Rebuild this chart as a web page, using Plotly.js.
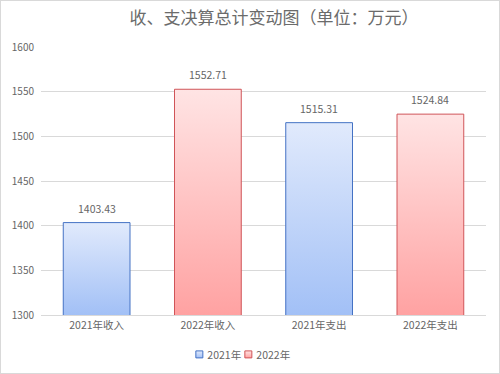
<!DOCTYPE html>
<html><head><meta charset="utf-8">
<script src="https://cdn.plot.ly/plotly-3.0.1.min.js"></script>
<style>html,body{margin:0;padding:0;background:#fff}#c{width:498px;height:372px;border:1px solid #d9d9d9}</style>
</head><body><div id="c"></div>
<script>
const categories = ['2021年收入','2022年收入','2021年支出','2022年支出'];
const x2021 = ['2021年收入','2021年支出'];
const v2021 = [1403.43, 1515.31];
const x2022 = ['2022年收入','2022年支出'];
const v2022 = [1552.71, 1524.84];
const yTicks = [1300,1350,1400,1450,1500,1550,1600];

const fam = '"Noto Sans CJK SC", "Noto Sans", sans-serif';
const txtColor = '#666666';
const traces = [
 {type:'bar', name:'2021年', x:x2021, y:v2021, width:0.6,
  marker:{color:'#c4d6f7', line:{color:'#4472c4', width:1}}},
 {type:'bar', name:'2022年', x:x2022, y:v2022, width:0.6,
  marker:{color:'#ffc6c6', line:{color:'#d05458', width:1}}}
];
const annotations = [];
[[x2021,v2021],[x2022,v2022]].forEach(function(s){
  s[0].forEach(function(c,i){
    annotations.push({x:c, y:s[1][i], xref:'x', yref:'y', text:s[1][i].toFixed(2), showarrow:false,
      yanchor:'bottom', yshift:5, font:{size:10.5, color:txtColor, family:fam}});
  });
});
const layout = {
 width:498, height:372, margin:{l:40,r:13,t:46,b:58},
 paper_bgcolor:'#fff', plot_bgcolor:'#fff', font:{family:fam, color:txtColor, size:10},
 title:{text:'收、支决算总计变动图（单位：万元）', x:0.548, xanchor:'center', y:0.955, yanchor:'middle',
   font:{size:17,color:'#6b6b6b',family:fam}},
 barmode:'overlay',
 annotations:annotations,
 xaxis:{type:'category', categoryorder:'array', categoryarray:categories, showline:true, linecolor:'#d9d9d9', linewidth:1,
   ticks:'', tickfont:{size:10.5,color:txtColor}},
 yaxis:{range:[1300,1600], tickvals:yTicks, showgrid:true, gridcolor:'#d9d9d9', zeroline:false, showline:false,
   ticks:'', tickfont:{size:10,color:txtColor}, ticklabelstandoff:6},
 legend:{orientation:'h', x:0.5, xanchor:'center', xref:'container', y:0.05, yanchor:'middle', yref:'container',
   font:{size:10.5,color:txtColor}},
 showlegend:true
};
Plotly.newPlot('c', traces, layout, {displayModeBar:false, staticPlot:true}).then(function(gd){
  const svg = gd.querySelector('svg.main-svg');
  const ns = 'http://www.w3.org/2000/svg';
  const defs = svg.querySelector('defs');
  const cols = [['#e1eafc','#a2c0f6'],['#ffe4e4','#ffa2a2']];
  const ya = gd._fullLayout.yaxis;
  const yBottom = ya.l2p(ya.range[0]);
  let n = 0;
  function grad(top, bot, y1, y2){
    const id = 'g' + (n++);
    const g = document.createElementNS(ns,'linearGradient');
    g.setAttribute('id',id);
    if(y1 === undefined){
      g.setAttribute('x1','0'); g.setAttribute('y1','0'); g.setAttribute('x2','0'); g.setAttribute('y2','1');
    } else {
      g.setAttribute('gradientUnits','userSpaceOnUse');
      g.setAttribute('x1','0'); g.setAttribute('x2','0'); g.setAttribute('y1',y1); g.setAttribute('y2',y2);
    }
    [[0,top],[1,bot]].forEach(function(s){const st=document.createElementNS(ns,'stop'); st.setAttribute('offset',s[0]); st.setAttribute('stop-color',s[1]); g.appendChild(st);});
    defs.appendChild(g);
    return id;
  }
  gd.querySelectorAll('g.trace.bars').forEach(function(t,i){
    t.querySelectorAll('g.point path').forEach(function(p){
      const b = p.getBBox();
      const id = grad(cols[i][0], cols[i][1], b.y, yBottom);
      p.style.fill = 'url(#'+id+')';
    });
  });
  // compact legend entries
  const items = gd.querySelectorAll('g.legend g.traces');
  items.forEach(function(t,i){
    const id = grad(cols[i][0], cols[i][1]);
    t.querySelectorAll('g.legendpoints path').forEach(function(p){
      p.setAttribute('d','M3.5,3.5H-3.5V-3.5H3.5Z');
      p.style.fill='url(#'+id+')';
      p.style.strokeWidth='1px';
      p.setAttribute('transform','translate(12,0)');
    });
    const tx = t.querySelector('text.legendtext');
    if(tx){ tx.setAttribute('x', 20); }
    const m = /translate\(([-\d.]+)[ ,]+([-\d.]+)\)/.exec(t.getAttribute('transform') || 'translate(0,0)');
    const ty = m ? m[2] : 0;
    t.setAttribute('transform','translate('+(i*49)+','+ty+')');
  });
  const lg = gd.querySelector('g.legend');
  const sc = lg.querySelector('g.scrollbox');
  const r = sc.getBoundingClientRect();
  const cr = gd.getBoundingClientRect();
  const curCenter = (r.left + r.right)/2 - cr.left;
  const m2 = /translate\(([-\d.]+)[ ,]+([-\d.]+)\)/.exec(lg.getAttribute('transform'));
  if(m2){ lg.setAttribute('transform','translate('+(parseFloat(m2[1]) + (250 - curCenter))+','+m2[2]+')'); }
});
</script></body></html>
